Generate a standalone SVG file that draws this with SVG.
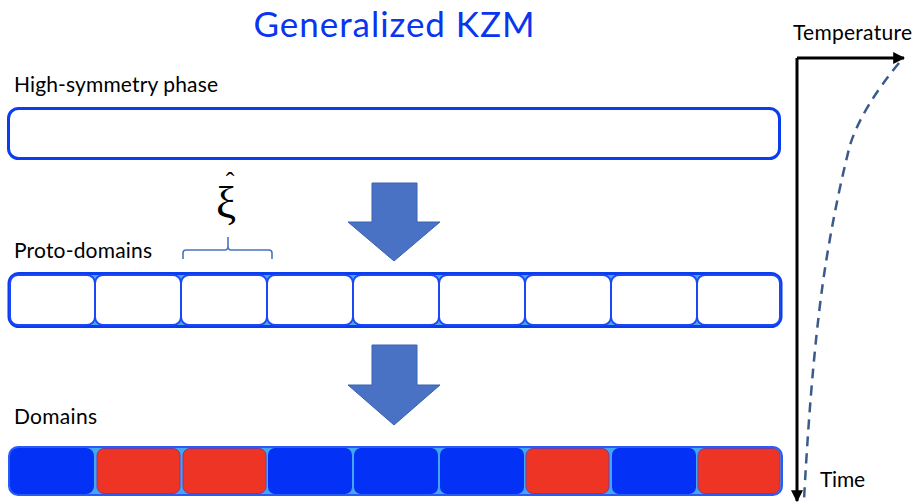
<svg xmlns="http://www.w3.org/2000/svg" width="916" height="503" viewBox="0 0 916 503">
<defs>
<style>
.lbl{font-family:Lato,"Liberation Sans",sans-serif;font-size:21px;fill:#000}
.cellw{fill:#fff;stroke:#1a48f5;stroke-width:2}
.cb{fill:#0331f6}
.cr{fill:#ee3424;stroke:#7a3a9a;stroke-width:1}
.bigarrow{fill:#4a72c4;stroke:#3a62b0;stroke-width:1}
</style>
<marker id="ah" viewBox="0 0 10 10" refX="9" refY="5" markerWidth="4" markerHeight="4" orient="auto" markerUnits="strokeWidth">
<path d="M0,0 L10,5 L0,10 z" fill="#000"/>
</marker>
</defs>
<rect width="916" height="503" fill="#fff"/>
<text x="394" y="37" text-anchor="middle" font-family="Lato,'Liberation Sans',sans-serif" font-size="35" fill="#0a35f0" textLength="281">Generalized KZM</text>

<g id="high-symmetry">
<text class="lbl" x="14" y="92" textLength="204">High-symmetry phase</text>
<rect x="8.5" y="108.5" width="771" height="50" rx="10" fill="#fff" stroke="#0a3cf0" stroke-width="3"/>
</g>

<g id="proto-domains">
<text class="lbl" x="14" y="258" textLength="138">Proto-domains</text>
<rect x="9" y="273.5" width="772" height="53" rx="10" fill="#44a6f2" stroke="#0a3cf0" stroke-width="3"/>
<rect class="cellw" x="10" y="275" width="85" height="50" rx="8"/>
<rect class="cellw" x="95" y="275" width="86" height="50" rx="8"/>
<rect class="cellw" x="181" y="275" width="86" height="50" rx="8"/>
<rect class="cellw" x="267" y="275" width="86" height="50" rx="8"/>
<rect class="cellw" x="353" y="275" width="86" height="50" rx="8"/>
<rect class="cellw" x="439" y="275" width="86" height="50" rx="8"/>
<rect class="cellw" x="525" y="275" width="86" height="50" rx="8"/>
<rect class="cellw" x="611" y="275" width="86" height="50" rx="8"/>
<rect class="cellw" x="697" y="275" width="83" height="50" rx="8"/>
</g>

<g id="xi-brace">
<path d="M183,259 L183,253 Q183,250 186,250 L225,250 Q228,250 228,246 L228,237 L228,246 Q228,250 231,250 L269,250 Q272,250 272,253 L272,259" fill="none" stroke="#4a72c0" stroke-width="1.6"/>
<text text-anchor="middle" font-family="'Liberation Serif',serif" fill="#000"><tspan x="226" y="217" font-size="45">ξ</tspan><tspan x="230" y="190" font-size="26">ˆ</tspan></text>
</g>

<g id="domains">
<text class="lbl" x="14" y="424" textLength="83">Domains</text>
<rect x="9" y="447" width="773" height="48" rx="9" fill="#44a6f2" stroke="#2a5cf5" stroke-width="2"/>
<rect class="cb" x="10" y="448" width="84" height="46" rx="8"/>
<rect class="cr" x="97" y="448.5" width="83" height="45" rx="7"/>
<rect class="cr" x="183" y="448.5" width="83" height="45" rx="7"/>
<rect class="cb" x="268" y="448" width="84" height="46" rx="7"/>
<rect class="cb" x="354" y="448" width="84" height="46" rx="7"/>
<rect class="cb" x="440" y="448" width="84" height="46" rx="7"/>
<rect class="cr" x="526" y="448.5" width="83" height="45" rx="7"/>
<rect class="cb" x="612" y="448" width="84" height="46" rx="7"/>
<rect class="cr" x="698" y="448.5" width="82" height="45" rx="7"/>
</g>

<g id="arrows">
<path class="bigarrow" d="M372,183 L417,183 L417,222 L440,222 L394,261 L348,222 L372,222 z"/>
<path class="bigarrow" d="M372,345 L417,345 L417,385 L440,385 L394,425 L348,385 L372,385 z"/>
</g>

<g id="axes">
<line x1="797" y1="58" x2="797" y2="501" stroke="#000" stroke-width="3" marker-end="url(#ah)"/>
<line x1="797" y1="58" x2="904" y2="58" stroke="#000" stroke-width="3" marker-end="url(#ah)"/>
<text class="lbl" x="793" y="40" textLength="119">Temperature</text>
<text class="lbl" x="820" y="487" textLength="45">Time</text>
<path d="M899,63 Q862,108 850,145 Q836,200 826,262 Q812,350 804,500" fill="none" stroke="#3a5a8a" stroke-width="2.5" stroke-dasharray="10,7"/>
</g>
</svg>
